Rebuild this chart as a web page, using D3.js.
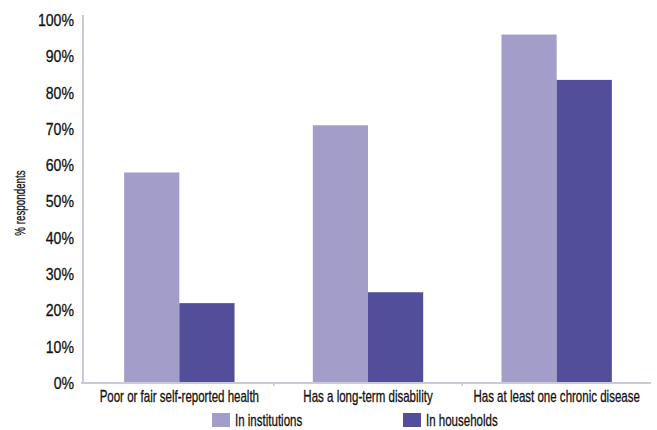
<!DOCTYPE html>
<html>
<head>
<meta charset="utf-8">
<script src="https://cdn.jsdelivr.net/npm/d3@7"></script>
<style>
  html, body { margin: 0; padding: 0; background: #ffffff; }
  svg { display: block; }
  text { font-family: "Liberation Sans", Arial, sans-serif; fill: #111; stroke: #111; stroke-width: 0.3px; }
</style>
</head>
<body>
<svg id="chart" width="657" height="430"></svg>
<script>
const categories = ["Poor or fair self-reported health", "Has a long-term disability", "Has at least one chronic disease"];
const seriesNames = ["In institutions", "In households"];
const institutions = [58, 71, 96];
const households = [22, 25, 83.5];
const yTicks = [0, 10, 20, 30, 40, 50, 60, 70, 80, 90, 100];
const yTitle = "% respondents";
const colors = ["#a39dc9", "#524e99"];

(function () {
const svg = d3.select("#chart");
const mLeft = 85, mRight = 651, mTop = 20, mBottom = 383;

// horizontally condense text around its anchor x
function condense(sel, sx) {
  sel.each(function () {
    const t = d3.select(this);
    const ax = +(t.attr("x") || 0);
    t.attr("transform", `translate(${ax * (1 - sx)},0) scale(${sx},1)`);
  });
}

const x = d3.scaleBand().domain(categories).range([mLeft, mRight]).paddingInner(0.415).paddingOuter(0.2075);
const xs = d3.scaleBand().domain(seriesNames).range([0, x.bandwidth()]);
const y = d3.scaleLinear().domain([0, 100]).range([mBottom, mTop]);

const data = categories.map((c, i) => ({ cat: c, vals: [institutions[i], households[i]] }));

// bars
const g = svg.append("g");
data.forEach(d => {
  seriesNames.forEach((s, j) => {
    g.append("rect")
      .attr("x", x(d.cat) + xs(s))
      .attr("y", y(d.vals[j]))
      .attr("width", xs.bandwidth())
      .attr("height", y(0) - y(d.vals[j]))
      .attr("fill", colors[j]);
  });
});

// y axis
const yAxis = d3.axisLeft(y).tickValues(yTicks).tickFormat(d => d + "%").tickSize(0).tickPadding(9);
const ya = svg.append("g").attr("transform", `translate(${mLeft - 2},0)`).call(yAxis);
ya.select(".domain").attr("stroke", "#c9c8dc").attr("stroke-width", 2).attr("d", `M0,${mTop - 5}V${mBottom}`);
ya.selectAll("text").style("font-size", "17px").attr("fill", "#111").call(condense, 0.83);

// x axis
const xAxis = d3.axisBottom(x).tickSize(0).tickPadding(8);
const xa = svg.append("g").attr("transform", `translate(0,${mBottom})`).call(xAxis);
xa.select(".domain").attr("stroke", "#c9c8dc").attr("stroke-width", 2).attr("d", `M${mLeft - 4},0H${mRight}`);
xa.selectAll("text").style("font-size", "16px").attr("fill", "#111").call(condense, 0.72);
const bounds = [x(categories[1]) - x.step() * x.paddingInner() / 2, x(categories[2]) - x.step() * x.paddingInner() / 2];
xa.selectAll(".btick").data(bounds).enter().append("line")
  .attr("x1", d => d).attr("x2", d => d).attr("y1", 0).attr("y2", 3)
  .attr("stroke", "#c9c8dc").attr("stroke-width", 1.5);

// y title
svg.append("text")
  .attr("transform", `translate(25,203) rotate(-90) scale(0.7,1)`)
  .attr("text-anchor", "middle")
  .style("font-size", "14px")
  .text(yTitle);

// legend
const legendX = [212, 403];
seriesNames.forEach((s, j) => {
  const lg = svg.append("g").attr("transform", `translate(${legendX[j]},413)`);
  lg.append("rect").attr("width", 18).attr("height", 14).attr("fill", colors[j]);
  lg.append("text").attr("x", 23).attr("y", 13).style("font-size", "16px").text(s).call(condense, 0.72);
});
})();
</script>
</body>
</html>
